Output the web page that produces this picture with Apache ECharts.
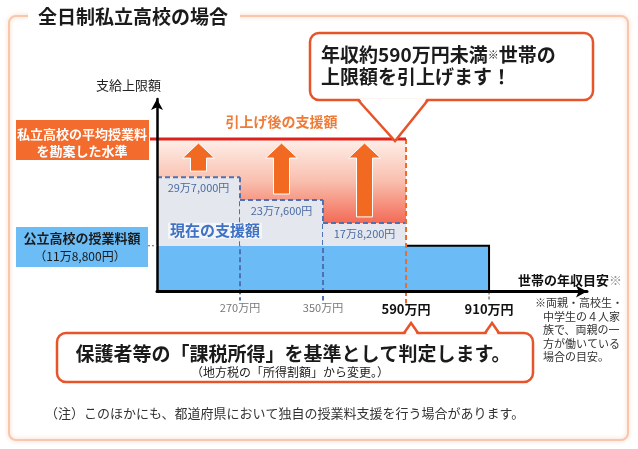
<!DOCTYPE html>
<html>
<head>
<meta charset="utf-8">
<script src="https://cdn.jsdelivr.net/npm/echarts@6/dist/echarts.min.js"></script>
<style>
html, body { margin: 0; padding: 0; background: #fff; }
#main { width: 638px; height: 449px; }
</style>
</head>
<body>
<div id="main"></div>
<script>
// 世帯の年収の区切り（万円）。模式図なので区切りは等間隔に並べる
const incomeBreaks = [0, 270, 350, 590, 910];
const incomeLabels = ['', '270万円', '350万円', '590万円', '910万円'];
// 現在の支援額（万円）: 〜270, 270〜350, 350〜590
const currentSupport = [29.7, 23.76, 17.82];
const currentSupportLabels = ['29万7,000円', '23万7,600円', '17万8,200円'];
// 公立高校の授業料額 / 私立高校の平均授業料を勘案した水準（万円）
const publicTuition = 11.88;
const raisedLevel = 39.6;

const FONT = '"Noto Sans CJK JP", "Noto Sans", sans-serif';
const BLUE_DASH = '#4d72b4';
const ORANGE = '#ee6a2a';
const BUBBLE = '#e8542a';
const INK = '#1b1b1b';

const lowestSupport = Math.min(...currentSupport);
const nSupport = currentSupport.length;
const lastBreak = incomeBreaks.length - 1;

function rectFrom (a, b) {
  return {
    x: Math.min(a[0], b[0]),
    y: Math.min(a[1], b[1]),
    width: Math.abs(b[0] - a[0]),
    height: Math.abs(b[1] - a[1])
  };
}

const chart = echarts.init(document.getElementById('main'));

chart.setOption({
  animation: false,
  textStyle: { fontFamily: FONT },
  grid: { left: 157, top: 99, width: 430, height: 192.5 },
  xAxis: {
    type: 'value',
    min: 0,
    max: 5.18,
    z: 10,
    splitLine: { show: false },
    axisTick: { show: false },
    axisLine: {
      show: true,
      lineStyle: { color: '#000', width: 3 },
      symbol: ['none', 'arrow'],
      symbolSize: [9, 11]
    },
    axisLabel: {
      customValues: [1, 2, 3, 4],
      margin: 11,
      formatter: function (v) {
        const i = Math.round(v);
        return (i >= nSupport ? '{b|' : '{a|') + incomeLabels[i] + '}';
      },
      rich: {
        a: { fontSize: 11, color: '#777', fontFamily: FONT },
        b: { fontSize: 13, fontWeight: 'bold', color: '#111', fontFamily: FONT }
      }
    }
  },
  yAxis: {
    type: 'value',
    min: 0,
    max: 50,
    z: 10,
    splitLine: { show: false },
    axisTick: { show: false },
    axisLabel: { show: false },
    axisLine: {
      show: true,
      lineStyle: { color: '#000', width: 2.5 },
      symbol: ['none', 'arrow'],
      symbolSize: [9, 11]
    },
    name: '支給上限額',
    nameLocation: 'end',
    nameGap: 7,
    nameTextStyle: {
      fontSize: 13,
      color: '#222',
      align: 'right',
      verticalAlign: 'bottom',
      padding: [0, -4, 0, 0]
    }
  },
  series: [
    // 引上げ後の支援額（グラデーション部分）
    {
      type: 'custom',
      name: '引上げ後の支援額',
      z: 2,
      data: currentSupport.map((v, i) => [i, i + 1, v, raisedLevel]),
      renderItem: function (params, api) {
        const a = api.coord([api.value(0), api.value(3)]);
        const b = api.coord([api.value(1), api.value(2)]);
        const yTop = api.coord([0, raisedLevel])[1];
        const yBot = api.coord([0, lowestSupport])[1];
        return {
          type: 'rect',
          shape: rectFrom(a, b),
          style: {
            fill: new echarts.graphic.LinearGradient(0, yTop, 0, yBot, [
              { offset: 0, color: '#fef0ea' },
              { offset: 0.5, color: '#f9bfae' },
              { offset: 1, color: '#f36b56' }
            ], true)
          }
        };
      }
    },
    // 公立高校の授業料額
    {
      type: 'custom',
      name: '公立高校の授業料額',
      z: 2,
      data: [[0, lastBreak, publicTuition]],
      renderItem: function (params, api) {
        const h = api.value(2);
        const a = api.coord([api.value(0), h]);
        const b = api.coord([api.value(1), 0]);
        const m = api.coord([nSupport, h]);
        return {
          type: 'group',
          children: [
            { type: 'rect', shape: rectFrom(a, b), style: { fill: '#6bbcf6' } },
            {
              type: 'polyline',
              shape: { points: [m, [b[0], a[1]], b] },
              style: { stroke: '#000', lineWidth: 2, fill: null }
            },
            {
              type: 'line',
              shape: { x1: b[0], y1: b[1], x2: b[0], y2: b[1] + 9 },
              style: { stroke: '#888', lineWidth: 1.5, lineDash: [3, 2] }
            }
          ]
        };
      }
    },
    // 現在の支援額
    {
      type: 'custom',
      name: '現在の支援額',
      z: 3,
      data: currentSupport.map((v, i) => [i, i + 1, v, publicTuition]),
      renderItem: function (params, api) {
        const tl = api.coord([api.value(0), api.value(2)]);
        const br = api.coord([api.value(1), api.value(3)]);
        const zero = api.coord([api.value(1), 0]);
        const dash = { stroke: BLUE_DASH, lineWidth: 2, lineDash: [5, 3] };
        const children = [
          { type: 'rect', shape: rectFrom(tl, br), style: { fill: '#e4e8ee' } },
          { type: 'line', shape: { x1: tl[0], y1: tl[1], x2: br[0], y2: tl[1] }, style: dash },
          {
            type: 'text',
            style: {
              text: currentSupportLabels[params.dataIndex],
              x: (tl[0] + br[0]) / 2,
              y: tl[1] + 11,
              align: 'center',
              verticalAlign: 'middle',
              fill: '#4a6aa3',
              font: '11px ' + FONT
            }
          }
        ];
        if (params.dataIndex < nSupport - 1) {
          children.push({
            type: 'line',
            shape: { x1: br[0], y1: tl[1], x2: br[0], y2: zero[1] + 9 },
            style: dash
          });
        }
        return { type: 'group', children: children };
      }
    },
    // 引上げの矢印
    {
      type: 'custom',
      name: '引上げ',
      z: 4,
      data: currentSupport.map((v, i) => [i, i + 1, v, raisedLevel]),
      renderItem: function (params, api) {
        const x0 = api.coord([api.value(0), 0])[0];
        const x1 = api.coord([api.value(1), 0])[0];
        const cx = (x0 + x1) / 2;
        const yb = api.coord([0, api.value(2)])[1] - 6;
        const yt = api.coord([0, api.value(3)])[1] + 4;
        const hw = 16, sw = 8, hl = 15;
        return {
          type: 'polygon',
          shape: {
            points: [
              [cx, yt], [cx + hw, yt + hl], [cx + sw, yt + hl], [cx + sw, yb],
              [cx - sw, yb], [cx - sw, yt + hl], [cx - hw, yt + hl]
            ]
          },
          style: { fill: '#f26a22', stroke: '#fff', lineWidth: 1 }
        };
      }
    },
    // 引上げ後の上限ライン・590万円の区切り
    {
      type: 'custom',
      name: '上限',
      z: 5,
      data: [[0, nSupport, raisedLevel]],
      renderItem: function (params, api) {
        const a = api.coord([api.value(0), api.value(2)]);
        const b = api.coord([api.value(1), api.value(2)]);
        const base = api.coord([api.value(1), 0]);
        return {
          type: 'group',
          children: [
            {
              type: 'line',
              shape: { x1: b[0], y1: b[1], x2: b[0], y2: base[1] + 12 },
              style: { stroke: ORANGE, lineWidth: 2, lineDash: [5, 3] }
            },
            {
              type: 'line',
              shape: { x1: a[0] - 7, y1: a[1], x2: b[0], y2: b[1] },
              style: { stroke: '#e0201a', lineWidth: 3 }
            }
          ]
        };
      }
    }
  ]
});

// 注記・吹き出しは座標から位置を取る
const toPx = (x, y) => chart.convertToPixel({ gridIndex: 0 }, [x, y]);
const pRaised = toPx(nSupport, raisedLevel);
const pLeftRaised = toPx(0, raisedLevel);
const pPublic = toPx(0, publicTuition);
const x590 = toPx(nSupport, 0)[0];
const x910 = toPx(lastBreak, 0)[0];

const tipTop = [x590 - 11, pRaised[1] + 2];
const ptrs = [x590 + 5, x910 + 3];

function txt (x, y, text, font, fill, align, extra) {
  return {
    type: 'text', x: x, y: y, z: 30,
    style: Object.assign({
      text: text, font: font, fill: fill || INK,
      align: align || 'left', verticalAlign: 'middle'
    }, extra || {})
  };
}

const graphics = [
  // 枠
  {
    type: 'rect', z: -5,
    shape: { x: 9, y: 16, width: 619, height: 424, r: 7 },
    style: { fill: null, stroke: '#f8c6ab', lineWidth: 2, shadowBlur: 4, shadowColor: 'rgba(243,150,110,0.45)' }
  },
  { type: 'rect', z: 1, shape: { x: 28, y: 4, width: 212, height: 24 }, style: { fill: '#fff' } },
  txt(38, 17, '全日制私立高校の場合', 'bold 19px ' + FONT, INK),

  // 左の見出し
  { type: 'rect', z: 20, shape: { x: 16, y: 120, width: 133, height: 40 }, style: { fill: '#f36b2d' } },
  txt(82, 134, '私立高校の平均授業料', 'bold 13px ' + FONT, '#fff', 'center'),
  txt(82, 151, 'を勘案した水準', 'bold 13px ' + FONT, '#fff', 'center'),
  { type: 'rect', z: 20, shape: { x: 16, y: 227, width: 132, height: 40 }, style: { fill: '#6cbcf5' } },
  txt(82, 238.5, '公立高校の授業料額', 'bold 13px ' + FONT, INK, 'center'),
  txt(80, 256, '（11万8,800円）', '12px ' + FONT, INK, 'center'),
  {
    type: 'line', z: 20,
    shape: { x1: 148, y1: pPublic[1], x2: pPublic[0], y2: pPublic[1] },
    style: { stroke: '#666', lineWidth: 1, lineDash: [2, 2] }
  },

  // 図中の注記
  txt((pLeftRaised[0] + pRaised[0]) / 2, pRaised[1] - 17, '引上げ後の支援額', 'bold 14px ' + FONT, '#ef7b37', 'center'),
  txt(pPublic[0] + 11, pPublic[1] - 15, '現在の支援額', 'bold 15px ' + FONT, '#3f72c6', 'left',
    { backgroundColor: 'rgba(255,255,255,0.55)', padding: [1, 2, 0, 2] }),
  {
    type: 'text', x: 622, y: 280, z: 30,
    style: {
      text: '{a|世帯の年収目安}{s|※}', align: 'right', verticalAlign: 'middle',
      rich: {
        a: { font: 'bold 13px ' + FONT, fill: '#111' },
        s: { font: '13px ' + FONT, fill: '#999' }
      }
    }
  },
  txt(535, 303, '※両親・高校生・', '11px ' + FONT, '#333'),
  {
    type: 'text', x: 543, y: 310, z: 30,
    style: {
      text: '中学生の４人家\n族で、両親の一\n方が働いている\n場合の目安。',
      font: '11px ' + FONT, fill: '#333', lineHeight: 13.5, verticalAlign: 'top'
    }
  },

  // 上の吹き出し
  {
    type: 'rect', z: 25,
    shape: { x: 310, y: 33, width: 283, height: 67, r: 9 },
    style: { fill: '#fff', stroke: BUBBLE, lineWidth: 2.5 }
  },
  {
    type: 'polygon', z: 26,
    shape: { points: [[359, 98.2], [427, 98.2], tipTop] },
    style: { fill: '#fff' }
  },
  {
    type: 'polyline', z: 27,
    shape: { points: [[358, 100], tipTop, [428, 100]] },
    style: { stroke: BUBBLE, lineWidth: 2.5, fill: null }
  },
  {
    type: 'text', x: 321, y: 55, z: 30,
    style: {
      text: '{a|年収約590万円未満}{s|※}{a|世帯の}', verticalAlign: 'middle',
      rich: {
        a: { font: 'bold 19px ' + FONT, fill: INK },
        s: { font: '11px ' + FONT, fill: INK }
      }
    }
  },
  txt(321, 77, '上限額を引上げます！', 'bold 19px ' + FONT, INK),

  // 下の吹き出し
  {
    type: 'rect', z: 25,
    shape: { x: 57, y: 333, width: 476, height: 49, r: 9 },
    style: { fill: '#fff', stroke: BUBBLE, lineWidth: 2.5 }
  }
];
ptrs.forEach(function (px) {
  graphics.push({
    type: 'polygon', z: 26,
    shape: { points: [[px - 6, 334.8], [px + 6, 334.8], [px, 323]] },
    style: { fill: '#fff' }
  });
  graphics.push({
    type: 'polyline', z: 27,
    shape: { points: [[px - 7, 333], [px, 323], [px + 7, 333]] },
    style: { stroke: BUBBLE, lineWidth: 2.5, fill: null }
  });
});
graphics.push(
  txt(293, 354, '保護者等の「課税所得」を基準として判定します。', 'bold 19px ' + FONT, INK, 'center'),
  txt(290, 372, '（地方税の「所得割額」から変更。）', '12px ' + FONT, INK, 'center'),
  txt(45, 413, '（注）このほかにも、都道府県において独自の授業料支援を行う場合があります。', '13px ' + FONT, '#333')
);

chart.setOption({ graphic: { elements: graphics } });
</script>
</body>
</html>
